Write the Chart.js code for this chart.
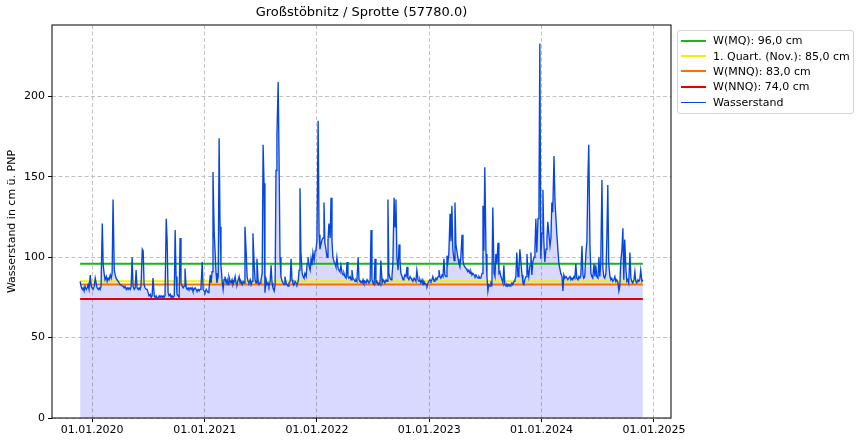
<!DOCTYPE html>
<html>
<head>
<meta charset="utf-8">
<title>Großstöbnitz / Sprotte</title>
<script src="https://cdn.jsdelivr.net/npm/chart.js@4.4.1/dist/chart.umd.min.js"></script>
<style>
  html, body { margin: 0; padding: 0; background: #fff; }
  #wrap   { position: relative; width: 863px; height: 444px; font-family: "DejaVu Sans", sans-serif; color: #000; }
  #chart  { position: absolute; left: 0; top: 0; }
  #title  { position: absolute; left: 52px; width: 619px; top: 4px; text-align: center; font-size: 13px; }
  #legend { position: absolute; left: 677px; top: 30px; width: 177px; box-sizing: border-box;
            border: 1px solid #d4d4d4; border-radius: 3px; background: rgba(255,255,255,0.8);
            padding: 2px 0 3px 0; font-size: 11px; }
  .lg-row  { display: flex; align-items: center; height: 15.4px; white-space: nowrap; }
  .lg-line { width: 25px; margin: 0 7px 0 3px; }
</style>
</head>
<body>
<div id="wrap">
  <canvas id="chart" width="863" height="444"></canvas>
  <div id="title"></div>
  <div id="legend"></div>
</div>
<script>
/* ── Data ── */
const stationTitle = "Großstöbnitz / Sprotte (57780.0)";
const yAxisTitle   = "Wasserstand in cm ü. PNP";
const seriesName   = "Wasserstand";

// days since 01.01.2020, one reading about every 3 days
const days = [
  -39,-36,-32,-29, -26,-23,-19,-16, -13,-10,-6,-3, 0,3,7,10,
  13,16,20,23, 26,29,33,36, 39,42,46,49, 52,55,59,62,
  65,68,72,75, 78,81,85,88, 91,94,98,101, 104,107,111,114,
  117,120,124,127, 130,133,137,140, 143,146,150,153, 156,159,163,166,
  169,172,176,179, 182,185,189,192, 195,198,202,205, 208,211,215,218,
  221,224,228,231, 234,237,241,244, 247,250,254,257, 260,263,267,270,
  273,276,280,283, 286,289,293,296, 299,302,306,309, 312,315,319,322,
  325,328,332,335, 338,341,345,348, 351,354,358,361, 364,367,371,374,
  377,380,384,387, 390,393,397,400, 403,406,410,413, 416,419,423,426,
  429,432,436,439, 442,445,449,452, 455,458,462,465, 468,471,475,478,
  481,484,488,491, 494,497,501,504, 507,510,514,517, 520,523,527,530,
  533,536,540,543, 546,549,553,556, 559,562,566,569, 572,575,579,582,
  585,588,592,595, 598,601,605,608, 611,614,618,621, 624,627,631,634,
  637,640,644,647, 650,653,657,660, 663,666,670,673, 676,679,683,686,
  689,692,696,699, 702,705,709,712, 715,718,722,725, 728,731,735,738,
  741,744,748,751, 754,757,761,764, 767,770,774,777, 780,783,787,790,
  793,796,800,803, 806,809,813,816, 819,822,826,829, 832,835,839,842,
  845,848,852,855, 858,861,865,868, 871,874,878,881, 884,887,891,894,
  897,900,904,907, 910,913,917,920, 923,926,930,933, 936,939,943,946,
  949,952,956,959, 962,965,969,972, 975,978,982,985, 988,991,995,998,
  1001,1004,1008,1011, 1014,1017,1021,1024, 1027,1030,1034,1037, 1040,1043,1047,1050,
  1053,1056,1060,1063, 1066,1069,1073,1076, 1079,1082,1086,1089, 1092,1095,1099,1102,
  1105,1108,1112,1115, 1118,1121,1125,1128, 1131,1134,1138,1141, 1144,1147,1151,1154,
  1157,1160,1164,1167, 1170,1173,1177,1180, 1183,1186,1190,1193, 1196,1199,1203,1206,
  1209,1212,1216,1219, 1222,1225,1229,1232, 1235,1238,1242,1245, 1248,1251,1255,1258,
  1261,1264,1268,1271, 1274,1277,1281,1284, 1287,1290,1294,1297, 1300,1303,1307,1310,
  1313,1316,1320,1323, 1326,1329,1333,1336, 1339,1342,1346,1349, 1352,1355,1359,1362,
  1365,1368,1372,1375, 1378,1381,1385,1388, 1391,1394,1398,1401, 1404,1407,1411,1414,
  1417,1420,1424,1427, 1430,1433,1437,1440, 1443,1446,1450,1453, 1456,1459,1463,1466,
  1469,1472,1476,1479, 1482,1485,1489,1492, 1495,1498,1502,1505, 1508,1511,1515,1518,
  1521,1524,1528,1531, 1534,1537,1541,1544, 1547,1550,1554,1557, 1560,1563,1567,1570,
  1573,1576,1580,1583, 1586,1589,1593,1596, 1599,1602,1606,1609, 1612,1615,1619,1622,
  1625,1628,1632,1635, 1638,1641,1645,1648, 1651,1654,1658,1661, 1664,1667,1671,1674,
  1677,1680,1684,1687, 1690,1693,1697,1700, 1703,1706,1710,1713, 1716,1719,1723,1726,
  1729,1732,1736,1739, 1742,1745,1749,1752, 1755,1758,1762,1765, 1768,1771,1775,1778,
  1781,1784,1788,1791
];

// water level in cm
const levels = [
  85,82,80,81,79,82,80,81,83,80,89,82,81,80,82,87,
  84,81,80,81,80,82,121,95,90,86,88,85,87,86,89,87,
  90,136,92,89,87,86,85,84,83,83,82,82,81,82,80,81,
  80,81,80,82,100,82,80,81,92,81,80,81,80,82,105,104,
  83,81,80,80,78,76,77,75,76,87,76,75,76,74.5,75,76,
  75,76,75,76,75,76,124,110,78,76,77,75,76,75,76,117,
  88,77,76,75,112,84,82,81,82,93,81,80,81,80,81,80,
  81,79,80,81,80,79,80,79,80,81,97,80,79,78,80,79,
  78,80,89,84,91,153,115,103,90,84,88,174,119,95,85,80,
  86,88,84,86,83,88,85,84,86,83,85,88,84,83,86,88,
  84,85,83,85,84,119,103,88,85,84,86,83,85,115,95,86,
  84,99,85,83,84,86,90,170,146,78,86,83,84,82,85,95,
  84,81,79,83,154,176,209,159,100,88,85,84,83,88,84,83,
  82,84,85,99,86,84,83,85,84,83,85,92,143,103,90,88,
  87,90,88,96,100,95,92,99,95,103,98,104,105,110,185,114,
  105,108,111,112,134,109,104,100,110,121,112,137,110,100,97,96,
  94,100,93,92,91,95,90,89,90,88,87,97,88,87,88,86,
  92,87,86,85,86,85,100,86,85,85,84,86,84,85,84,86,
  85,84,85,117,86,84,83,99,84,85,83,84,83,98,84,86,
  85,84,86,85,136,90,87,86,88,96,137,119,136,100,92,108,
  99,90,88,86,87,89,88,94,87,86,88,87,86,85,87,86,
  85,92,86,85,86,84,86,83,85,84,83,82,84,85,86,85,
  86,88,85,86,87,86,88,92,88,87,89,88,99,89,88,101,
  97,102,127,110,132,105,98,134,108,104,99,96,94,100,114,98,
  95,94,93,92,91,92,90,91,89,90,89,88,89,88,87,88,
  87,87,90,132,104,156,102,88,79,83,82,84,83,131,90,88,
  102,96,109,90,91,88,86,84,95,83,82,83,82,83,82,83,
  84,83,85,86,88,103,88,92,105,98,89,84,83,86,88,102,
  92,88,95,103,89,97,100,105,124,103,124,130,233,99,115,142,
  110,97,105,112,122,115,107,112,134,128,163,136,125,115,104,96,
  93,90,88,79,89,87,88,87,86,87,88,86,87,86,88,87,
  96,87,86,88,87,88,107,89,87,88,103,110,147,170,107,90,
  88,87,96,88,95,88,87,100,88,96,148,93,88,87,90,113,
  145,96,88,86,87,85,86,88,85,86,84,79,82,97,105,118,
  86,111,92,85,86,84,103,87,85,84,86,91,85,84,86,85,
  86,92,85,86
];

const thresholdNames  = ["W(MQ)", "1. Quart. (Nov.)", "W(MNQ)", "W(NNQ)"];
const thresholdValues = [96.0, 85.0, 83.0, 74.0];

const yearTicks  = [0, 366, 731, 1096, 1461, 1827];
const yearLabels = ["01.01.2020", "01.01.2021", "01.01.2022", "01.01.2023", "01.01.2024", "01.01.2025"];
const levelTicks = [0, 50, 100, 150, 200];

/* ── Styles ── */
const THRESHOLD_COLORS = ["#1db31d", "#f2f200", "#ff6f00", "#e40000"];
const LINE_COLOR = "#0545e0";
const FILL_COLOR = "rgba(0, 0, 255, 0.15)";
const GRID_COLOR = "#c2c2c2";
const FONT = { family: "DejaVu Sans", size: 11 };

/* ── Build datasets ── */
const fmt = v => v.toFixed(1).replace(".", ",");
const first = days[0], last = days[days.length - 1];

const thresholdSets = thresholdNames.map((name, i) => ({
  label: `${name}: ${fmt(thresholdValues[i])} cm`,
  data: [{ x: first, y: thresholdValues[i] }, { x: last, y: thresholdValues[i] }],
  borderColor: THRESHOLD_COLORS[i],
  borderWidth: 2,
  pointRadius: 0,
  fill: false,
  order: 1,
}));

const levelSet = {
  label: seriesName,
  data: days.map((d, i) => ({ x: d, y: levels[i] })),
  borderColor: LINE_COLOR,
  backgroundColor: FILL_COLOR,
  borderWidth: 1.35,
  pointRadius: 0,
  tension: 0,
  fill: "origin",
  order: 0,
};

/* ── Title & legend (html) ── */
document.getElementById("title").textContent = stationTitle;
document.getElementById("legend").innerHTML = [...thresholdSets, levelSet].map(ds => `
  <div class="lg-row">
    <span class="lg-line" style="border-top:${ds === levelSet ? 1 : 2}px solid ${ds.borderColor}"></span>
    <span>${ds.label}</span>
  </div>`).join("");

/* ── Frame round the plot ── */
const framePlugin = {
  id: "frame",
  afterDraw(chart) {
    const { ctx, chartArea: a } = chart;
    ctx.save();
    ctx.strokeStyle = "#000";
    ctx.lineWidth = 1;
    ctx.strokeRect(a.left, a.top, a.right - a.left, a.bottom - a.top);
    ctx.restore();
  }
};

/* ── Chart ── */
new Chart(document.getElementById("chart"), {
  type: "line",
  data: { datasets: [...thresholdSets, levelSet] },
  plugins: [framePlugin],
  options: {
    responsive: false,
    animation: false,
    layout: { padding: { top: 25, right: 192, left: 0, bottom: 0 } },
    plugins: {
      legend: { display: false },
      title: { display: false },
      tooltip: { enabled: false },
      filler: { drawTime: "beforeDatasetsDraw" },
    },
    scales: {
      x: {
        type: "linear",
        min: -130.5,
        max: 1882.5,
        afterBuildTicks: ax => { ax.ticks = yearTicks.map(v => ({ value: v })); },
        afterFit: ax => { ax.height = 26; },
        ticks: { callback: (v, i) => yearLabels[i], color: "#000", font: FONT, padding: 2, maxRotation: 0, autoSkip: false },
        grid: { color: GRID_COLOR, lineWidth: 1, tickColor: "#000", tickLength: 4, tickBorderDash: [] },
        border: { display: false, dash: [4, 2.5] },
      },
      y: {
        min: 0,
        max: 244.5,
        afterBuildTicks: ax => { ax.ticks = levelTicks.map(v => ({ value: v })); },
        afterFit: ax => { ax.width = 52; },
        ticks: { color: "#000", font: FONT, padding: 3 },
        grid: { color: GRID_COLOR, lineWidth: 1, tickColor: "#000", tickLength: 4, tickBorderDash: [] },
        border: { display: false, dash: [4, 2.5] },
        title: { display: true, text: yAxisTitle, color: "#000", font: FONT, padding: { top: 6, bottom: 0 } },
      },
    },
  },
});
</script>
</body>
</html>
